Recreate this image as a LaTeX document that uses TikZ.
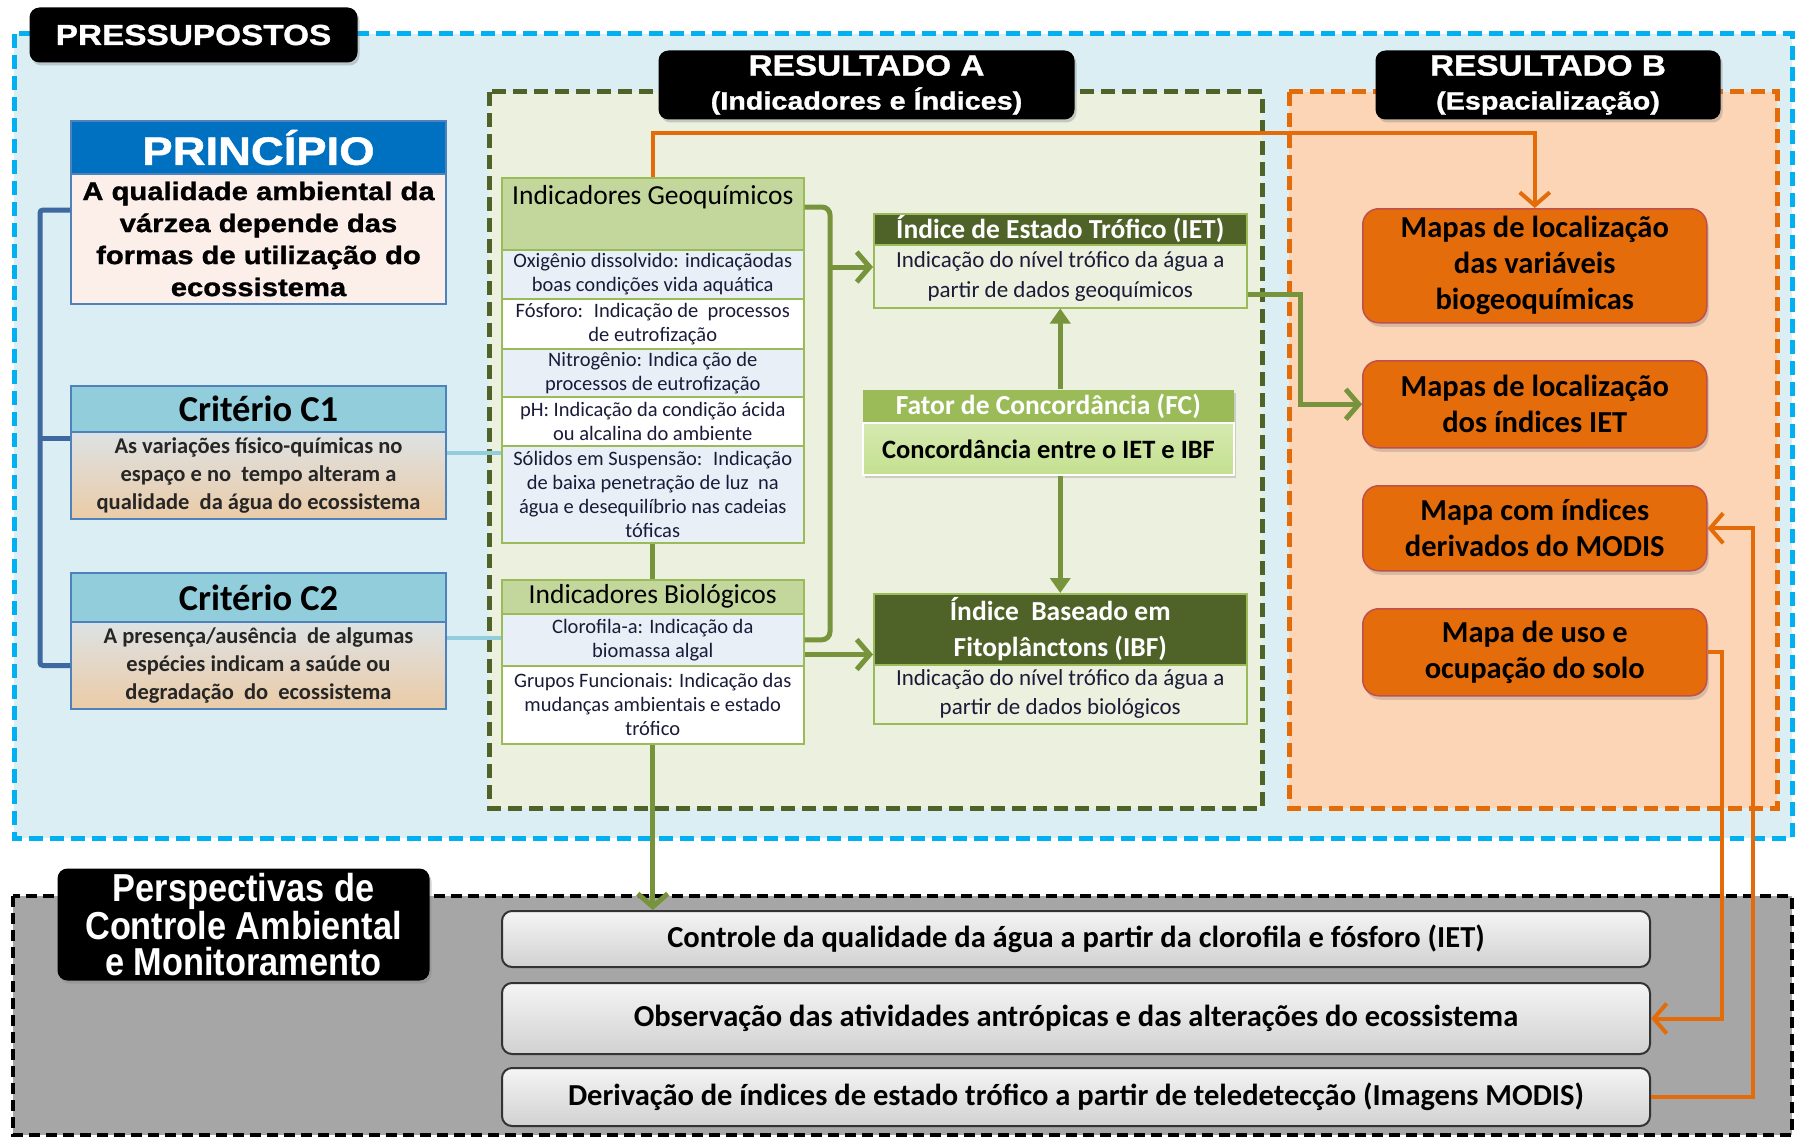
\documentclass[tikz,border=0pt]{standalone}
\usepackage{fontspec}
\setmainfont{Carlito}
\newfontfamily\blackfont[FakeStretch=1.15,BoldFeatures={FakeBold=1.2}]{Liberation Sans}
\newfontfamily\arialfont[FakeStretch=0.88]{Liberation Sans}
\usetikzlibrary{arrows.meta,shadows,calc}

\newcommand{\fsz}[2]{\fontsize{#1}{#2}\selectfont}

\definecolor{pressfill}{HTML}{DAEEF3}
\definecolor{pressline}{HTML}{00B0F0}
\definecolor{princhead}{HTML}{0070C0}
\definecolor{princbody}{HTML}{FCEEE9}
\definecolor{crithead}{HTML}{92CDDC}
\definecolor{crittop}{HTML}{DDE2E4}
\definecolor{critbot}{HTML}{EBCBA6}
\definecolor{boxblue}{HTML}{4F81BD}
\definecolor{spineblue}{HTML}{3E68A0}
\definecolor{resafill}{HTML}{EBF1DE}
\definecolor{resaline}{HTML}{4F6228}
\definecolor{indichead}{HTML}{C3D69B}
\definecolor{indicrow}{HTML}{E9EFF7}
\definecolor{indicline}{HTML}{9BBB59}
\definecolor{inktext}{HTML}{1A1B38}
\definecolor{fcbody}{HTML}{C4E08F}
\definecolor{resbfill}{HTML}{FBD5B5}
\definecolor{orangeline}{HTML}{E36C09}
\definecolor{mapfill}{HTML}{E46C0A}
\definecolor{mapline}{HTML}{C0504D}
\definecolor{persfill}{HTML}{A6A6A6}
\definecolor{greenlink}{HTML}{77933C}

\tikzset{every picture/.style={line width=1pt}}
\tikzset{
  tag/.style={fill=black, rounded corners=10pt, text=white, align=center, inner sep=0pt,
    anchor=north west, drop shadow={opacity=0.35, shadow xshift=2pt, shadow yshift=-3pt}},
  headbox/.style={draw=boxblue, line width=2pt, align=center, inner sep=0pt, anchor=north west,
    minimum width=375pt},
  critbody/.style={headbox, top color=crittop, bottom color=critbot, text=black!85,
    font=\bfseries\fsz{22.5}{28}},
  row/.style={draw=indicline, line width=1.5pt, minimum width=302pt, inner sep=0pt, align=center,
    anchor=north west, text=inktext, font=\fsz{20.5}{24}},
  indexbox/.style={draw=indicline, line width=1.5pt, minimum width=373pt, inner sep=0pt, align=center,
    anchor=north west},
  mapbox/.style={fill=mapfill, draw=mapline, line width=1.5pt, rounded corners=16pt, minimum width=344pt,
    inner sep=0pt, align=center, anchor=north west, font=\bfseries\fsz{30.5}{36},
    drop shadow={opacity=0.3, shadow xshift=2pt, shadow yshift=-4pt}},
  barbox/.style={draw=black!80, line width=2pt, rounded corners=10pt, minimum width=1148pt,
    inner sep=0pt, anchor=north west, top color=white!96!black, bottom color=black!18,
    font=\bfseries\fsz{30.5}{34}},
  glink/.style={draw=greenlink, line width=5pt},
  olink/.style={draw=orangeline, line width=4pt},
  garrow/.style={-{Straight Barb[length=13pt,width=30pt]}},
  gtip/.style={-{Triangle[length=15pt,width=20pt]}},
}

\begin{document}
\begin{tikzpicture}[x=1pt,y=1pt,yscale=-1]
\useasboundingbox (0,0) rectangle (1795,1137);
\fill[white] (0,0) rectangle (1795,1137);

% Regions
\draw[fill=pressfill, draw=pressline, line width=5pt, dash pattern=on 14pt off 7pt] (14,34) rectangle (1792,838);
\draw[fill=resafill, draw=resaline, line width=5pt, dash pattern=on 14pt off 7pt] (489,92) rectangle (1262,808);
\draw[fill=resbfill, draw=orangeline, line width=5pt, dash pattern=on 14pt off 7pt] (1289,92) rectangle (1777,808);
\draw[fill=persfill, draw=black, line width=4pt, dash pattern=on 11pt off 6pt] (13,896) rectangle (1792,1135);

% Titles
\node[tag, minimum width=328pt, minimum height=55pt, font=\blackfont\bfseries\fsz{29}{34}] (pressTag) at (29,7)
  {PRESSUPOSTOS};
\node[tag, minimum width=416pt, minimum height=69pt, font=\blackfont\bfseries\fsz{29}{34}] (resATag) at (658,50)
  {RESULTADO A\\\fsz{25}{34}(Indicadores e Índices)};
\node[tag, minimum width=345pt, minimum height=69pt, font=\blackfont\bfseries\fsz{29}{34}] (resBTag) at (1375,50)
  {RESULTADO B\\\fsz{25}{34}(Espacialização)};
\node[tag, minimum width=372pt, minimum height=112pt, font=\arialfont\bfseries\fsz{39}{36}] (persTag) at (57,868)
  {Perspectivas de\\Controle Ambiental\\e Monitoramento};

% Principio and criteria
\node[headbox, fill=princhead, minimum height=53pt, text=white, font=\blackfont\bfseries\fsz{39.5}{40}] (princHead) at (70,120)
  {PRINCÍPIO};
\node[headbox, fill=princbody, minimum height=130pt, font=\blackfont\bfseries\fsz{25.4}{32}] (princBody) at (70,173)
  {A qualidade ambiental da\\várzea depende das\\formas de utilização do\\ecossistema};
\node[headbox, fill=crithead, minimum height=46pt, font=\bfseries\fsz{36.5}{40}] (c1Head) at (70,385) {Critério C1};
\node[critbody, minimum height=87pt] (c1Body) at (70,431)
  {As variações físico-químicas no\\espaço e no~ tempo alteram a\\qualidade~ da água do ecossistema};
\node[headbox, fill=crithead, minimum height=49pt, font=\bfseries\fsz{36.5}{40}] (c2Head) at (70,572) {Critério C2};
\node[critbody, minimum height=87pt] (c2Body) at (70,621)
  {A presença/ausência~ de algumas\\espécies indicam a saúde ou\\degradação~ do~ ecossistema};

% Indicadores
\node[row, fill=indichead, minimum height=72pt, text=black, font=\fsz{27.5}{30}, text height=27pt, text depth=45pt] (geoH) at (501,177)
  {Indicadores Geoquímicos};
\node[row, fill=indicrow, minimum height=49pt] (geo1) at (501,249) {Oxigênio dissolvido: indicaçãodas\\boas condições vida aquática};
\node[row, fill=white, minimum height=50pt] (geo2) at (501,298) {Fósforo:~ Indicação de~ processos\\de eutrofização};
\node[row, fill=indicrow, minimum height=48pt] (geo3) at (501,348) {Nitrogênio: Indica ção de\\processos de eutrofização};
\node[row, fill=white, minimum height=49pt] (geo4) at (501,396) {pH: Indicação da condição ácida\\ou alcalina do ambiente};
\node[row, fill=indicrow, minimum height=97pt] (geo5) at (501,445)
  {Sólidos em Suspensão:~ Indicação\\de baixa penetração de luz~ na\\água e desequilíbrio nas cadeias\\tóficas};
\node[row, fill=indichead, minimum height=34pt, text=black, font=\fsz{27.5}{30}] (bioH) at (501,579) {Indicadores Biológicos};
\node[row, fill=indicrow, minimum height=52pt] (bio1) at (501,613) {Clorofila-a: Indicação da\\biomassa algal};
\node[row, fill=white, minimum height=78pt] (bio2) at (501,665) {Grupos Funcionais: Indicação das\\mudanças ambientais e estado\\trófico};

% Indices
\node[indexbox, fill=resaline, minimum height=31pt, text=white, font=\bfseries\fsz{27.5}{28}] (ietH) at (873,213)
  {Índice de Estado Trófico (IET)};
\node[indexbox, fill=resafill, minimum height=63pt, text=inktext, font=\fsz{23}{30}] (ietB) at (873,244)
  {Indicação do nível trófico da água a\\partir de dados geoquímicos};
\node[indexbox, draw=none, fill=indicline, minimum width=371pt, minimum height=33pt, text=white, font=\bfseries\fsz{27.5}{28},
  drop shadow={opacity=0.3, shadow xshift=2pt, shadow yshift=-3pt}] (fcH) at (862,389) {Fator de Concordância (FC)};
\node[indexbox, draw=white, line width=2pt, top color=fcbody!70!white, bottom color=fcbody, minimum width=371pt, minimum height=52pt,
  font=\bfseries\fsz{26.5}{28}, drop shadow={opacity=0.3, shadow xshift=2pt, shadow yshift=-3pt}] (fcB) at (862,422)
  {Concordância entre o IET e IBF};
\node[indexbox, fill=resaline, minimum height=71pt, text=white, font=\bfseries\fsz{27.5}{36}] (ibfH) at (873,593)
  {Índice~ Baseado em\\Fitoplânctons (IBF)};
\node[indexbox, fill=resafill, minimum height=59pt, text=inktext, font=\fsz{23}{29}] (ibfB) at (873,664)
  {Indicação do nível trófico da água a\\partir de dados biológicos};

% Maps
\node[mapbox, minimum height=114pt] (map1) at (1362,208) {Mapas de localização\\das variáveis\\biogeoquímicas};
\node[mapbox, minimum height=87pt] (map2) at (1362,360) {Mapas de localização\\dos índices IET};
\node[mapbox, minimum height=85pt] (map3) at (1362,485) {Mapa com índices\\derivados do MODIS};
\node[mapbox, minimum height=87pt] (map4) at (1362,608) {Mapa de uso e\\ocupação do solo};

% Perspectives
\node[barbox, minimum height=56pt] (bar1) at (501,910) {Controle da qualidade da água a partir da clorofila e fósforo (IET)};
\node[barbox, minimum height=71pt] (bar2) at (501,982) {Observação das atividades antrópicas e das alterações do ecossistema};
\node[barbox, minimum height=58pt] (bar3) at (501,1067) {Derivação de índices de estado trófico a partir de teledetecção (Imagens MODIS)};

% Connector points
\coordinate (spine) at (40,0);
\coordinate (pStub) at ($(princBody.north west)+(0,37)$);
\coordinate (c1Stub) at ($(c1Body.north west)+(0,7)$);
\coordinate (c1Out) at ($(c1Body.north east)+(0,22)$);
\coordinate (c2Out) at ($(c2Body.north east)+(0,17)$);
\coordinate (gbar) at (830,0);
\coordinate (geoOut) at ($(geoH.north east)+(0,30)$);
\coordinate (ietIn) at ($(ietB.north west)+(0,23)$);
\coordinate (ibfIn) at ($(ibfH.south west)+(0,-11)$);
\coordinate (ietOut) at ($(ietB.south east)+(0,-14)$);
\coordinate (gturn) at (1300,0);
\coordinate (otop) at (0,133);
\coordinate (oA) at (1722,0);
\coordinate (oB) at (1753,0);

% Blue links
\draw[draw=spineblue, line width=5pt, rounded corners=3pt] (pStub) -- (pStub -| spine) -- (c2Body.west -| spine) -- (c2Body.west);
\draw[draw=spineblue, line width=5pt] (c1Stub) -- (c1Stub -| spine);
\draw[draw=crithead, line width=4pt] (c1Out) -- (c1Out -| geo5.west);
\draw[draw=crithead, line width=4pt] (c2Out) -- (c2Out -| bio1.west);

% Green links
\draw[glink, rounded corners=8pt] (geoOut) -- (geoOut -| gbar) -- (gbar |- bio1.east) -- (bio1.east);
\draw[glink, garrow] (ietIn -| gbar) -- (ietIn);
\draw[glink, garrow] (ibfIn -| bio1.east) -- (ibfIn);
\draw[glink] (geo5.south) -- (bioH.north);
\draw[glink, garrow] (bio2.south) -- (bar1.north -| bio2.south);
\draw[glink, gtip] (ietB.south |- fcH.north) -- (ietB.south);
\draw[glink, gtip] (ibfH.north |- fcB.south) -- (ibfH.north);
\draw[glink, garrow] (ietOut) -- (ietOut -| gturn) |- (map2.west);

% Orange links
\draw[olink, garrow] (geoH.north) |- (otop -| map1.north) -- (map1.north);
\draw[olink, garrow] (map4.east) -- (map4.east -| oA) |- (bar2.east);
\draw[olink, garrow] (bar3.east) -- (bar3.east -| oB) |- (map3.east);

\end{tikzpicture}
\end{document}
